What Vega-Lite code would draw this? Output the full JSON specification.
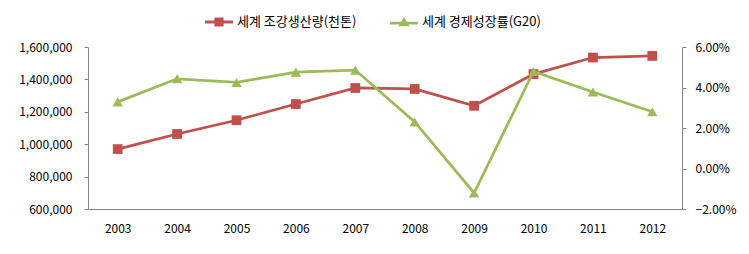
{
  "$schema": "https://vega.github.io/schema/vega-lite/v6.json",
  "width": 594,
  "height": 162,
  "autosize": {"type": "none"},
  "padding": {"left": 88, "top": 47, "right": 67, "bottom": 45},
  "background": "white",
  "config": {
    "font": "Noto Sans CJK KR",
    "view": {"stroke": null},
    "axis": {"labelFont": "Noto Sans CJK KR", "labelFontSize": 12, "labelColor": "#000000", "domainColor": "#868686", "tickColor": "#868686", "grid": false, "title": null},
    "legend": {"orient": "none", "direction": "horizontal", "title": null, "labelFontSize": 13, "labelColor": "#000000", "labelFont": "Noto Sans CJK KR", "symbolSize": 196, "labelOffset": 11, "symbolStrokeWidth": 0, "legendY": -32}
  },
  "data": {"values": [
    {"year": "2003", "series": "세계 조강생산량(천톤)", "value": 970000},
    {"year": "2004", "series": "세계 조강생산량(천톤)", "value": 1063000},
    {"year": "2005", "series": "세계 조강생산량(천톤)", "value": 1148000},
    {"year": "2006", "series": "세계 조강생산량(천톤)", "value": 1248000},
    {"year": "2007", "series": "세계 조강생산량(천톤)", "value": 1347000},
    {"year": "2008", "series": "세계 조강생산량(천톤)", "value": 1341000},
    {"year": "2009", "series": "세계 조강생산량(천톤)", "value": 1237000},
    {"year": "2010", "series": "세계 조강생산량(천톤)", "value": 1433000},
    {"year": "2011", "series": "세계 조강생산량(천톤)", "value": 1535000},
    {"year": "2012", "series": "세계 조강생산량(천톤)", "value": 1545000},
    {"year": "2003", "series": "세계 경제성장률(G20)", "value": 0.0329},
    {"year": "2004", "series": "세계 경제성장률(G20)", "value": 0.0443},
    {"year": "2005", "series": "세계 경제성장률(G20)", "value": 0.0425},
    {"year": "2006", "series": "세계 경제성장률(G20)", "value": 0.0476},
    {"year": "2007", "series": "세계 경제성장률(G20)", "value": 0.0486},
    {"year": "2008", "series": "세계 경제성장률(G20)", "value": 0.0230},
    {"year": "2009", "series": "세계 경제성장률(G20)", "value": -0.0121},
    {"year": "2010", "series": "세계 경제성장률(G20)", "value": 0.0479},
    {"year": "2011", "series": "세계 경제성장률(G20)", "value": 0.0378},
    {"year": "2012", "series": "세계 경제성장률(G20)", "value": 0.0280}
  ]},
  "encoding": {
    "x": {"field": "year", "type": "ordinal", "scale": {"type": "point", "padding": 0.5}, "axis": {"labelAngle": 0, "ticks": false, "labelPadding": 14}}
  },
  "layer": [
    {
      "transform": [{"filter": "datum.series === '세계 조강생산량(천톤)'"}],
      "encoding": {
        "y": {"field": "value", "type": "quantitative", "scale": {"domain": [600000, 1600000], "nice": false, "zero": false}, "axis": {"orient": "left", "values": [600000, 800000, 1000000, 1200000, 1400000, 1600000], "format": ",.0f", "tickSize": 4, "labelPadding": 12}}
      },
      "layer": [
        {"mark": {"type": "line", "color": "#C0504D", "strokeWidth": 2.75}},
        {"mark": {"type": "point", "shape": "square", "filled": true, "opacity": 1, "size": 95},
         "encoding": {"color": {"field": "series", "type": "nominal", "scale": {"domain": ["세계 조강생산량(천톤)"], "range": ["#C0504D"]},
           "legend": {"legendX": 124, "symbolType": "M-2,-0.21H2V0.21H-2Z M-0.65,-0.65H0.65V0.65H-0.65Z"}}}
        }
      ]
    },
    {
      "transform": [{"filter": "datum.series === '세계 경제성장률(G20)'"}],
      "encoding": {
        "y": {"field": "value", "type": "quantitative", "scale": {"domain": [-0.02, 0.06], "nice": false, "zero": false}, "axis": {"orient": "right", "values": [-0.02, 0, 0.02, 0.04, 0.06], "format": ".2%", "tickSize": 4, "labelPadding": 9}}
      },
      "layer": [
        {"mark": {"type": "line", "color": "#9BBB59", "strokeWidth": 2.75}},
        {"mark": {"type": "point", "shape": "triangle-up", "filled": true, "opacity": 1, "size": 110},
         "encoding": {"color": {"field": "series", "type": "nominal", "scale": {"domain": ["세계 경제성장률(G20)"], "range": ["#9BBB59"]},
           "legend": {"legendX": 309, "symbolType": "M-2,-0.05H2V0.35H-2Z M0,-0.7L0.8,0.6H-0.8Z"}}}
        }
      ]
    }
  ],
  "resolve": {"scale": {"y": "independent", "color": "independent"}}
}
